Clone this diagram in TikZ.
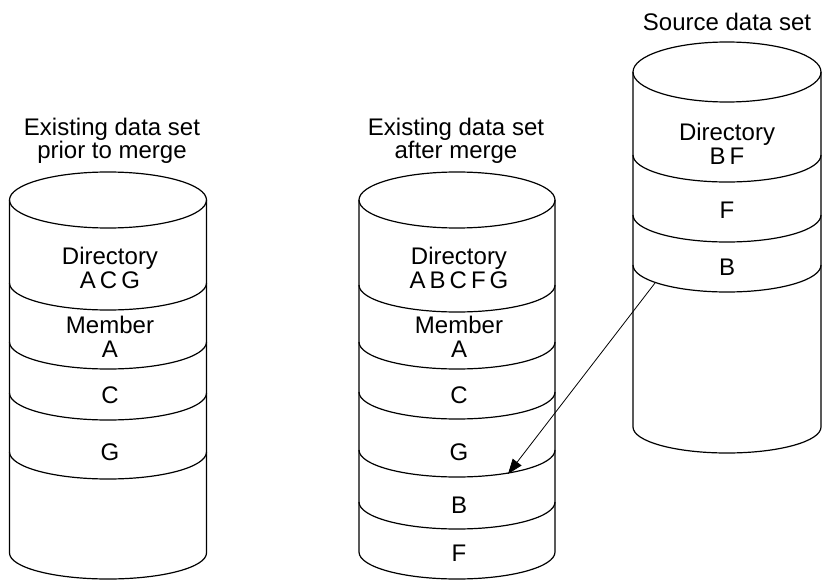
\documentclass[tikz,border=0pt]{standalone}
\usepackage{fontspec}
\setmainfont{Liberation Sans}
\usetikzlibrary{arrows.meta}
\begin{document}
\begin{tikzpicture}[x=1pt,y=-1pt,
  outline/.style={line width=1.2pt, black},
  lbl/.style={font=\fontsize{24}{24}\selectfont, align=center, inner sep=0pt},
  ttl/.style={font=\fontsize{24}{21.5}\selectfont, align=center, inner sep=0pt},
  link/.style={line width=0.8pt, -{Triangle[length=15pt,width=11pt]}}]
\useasboundingbox (0,0) rectangle (822,580);

% ---- left cylinder: existing data set prior to merge
\draw[outline] (108,200) ellipse [x radius=98.5, y radius=28];
\draw[outline] (9.5,200) -- (9.5,553) arc[start angle=180,end angle=0,x radius=98.5,y radius=26] -- (206.5,200);
\foreach \yy in {283,342,393,452}
  \draw[outline] (9.5,\yy) arc[start angle=180,end angle=0,x radius=98.5,y radius=27];
\node[ttl] (t1) at (112,141) {Existing data set\\prior to merge};
\node[lbl] (d1) at (110,268) {Directory\\A\,C\,G};
\node[lbl] (m1) at (110,337) {Member\\A};
\node[lbl] (c1) at (110,395) {C};
\node[lbl] (g1) at (110,452) {G};

% ---- middle cylinder: existing data set after merge
\draw[outline] (457,200) ellipse [x radius=98, y radius=28];
\draw[outline] (359,200) -- (359,552) arc[start angle=180,end angle=0,x radius=98,y radius=27] -- (555,200);
\foreach \yy in {285,342,392,450,502}
  \draw[outline] (359,\yy) arc[start angle=180,end angle=0,x radius=98,y radius=27];
\node[ttl] (t2) at (456,141) {Existing data set\\after merge};
\node[lbl] (d2) at (459,268) {Directory\\A\,B\,C\,F\,G};
\node[lbl] (m2) at (459,337) {Member\\A};
\node[lbl] (c2) at (459,395) {C};
\node[lbl] (g2) at (459,452) {G};
\node[lbl] (b2) at (459,505) {B};
\node[lbl] (f2) at (459,553) {F};

% ---- right cylinder: source data set
\draw[outline] (727,72) ellipse [x radius=94, y radius=30];
\draw[outline] (633,72) -- (633,427) arc[start angle=180,end angle=0,x radius=94,y radius=26] -- (821,72);
\foreach \yy in {155,215,265}
  \draw[outline] (633,\yy) arc[start angle=180,end angle=0,x radius=94,y radius=27];
\node[lbl] (t3) at (727,22) {Source data set};
\node[lbl] (d3) at (727,144) {Directory\\B\,F};
\node[lbl] (f3) at (727,210) {F};
\node[lbl] (b3) at (727,267) {B};

% ---- copy of member B
\coordinate (src) at (655,283);
\coordinate (dst) at (508,474);
\draw[link] (src) -- (dst);
\end{tikzpicture}
\end{document}
